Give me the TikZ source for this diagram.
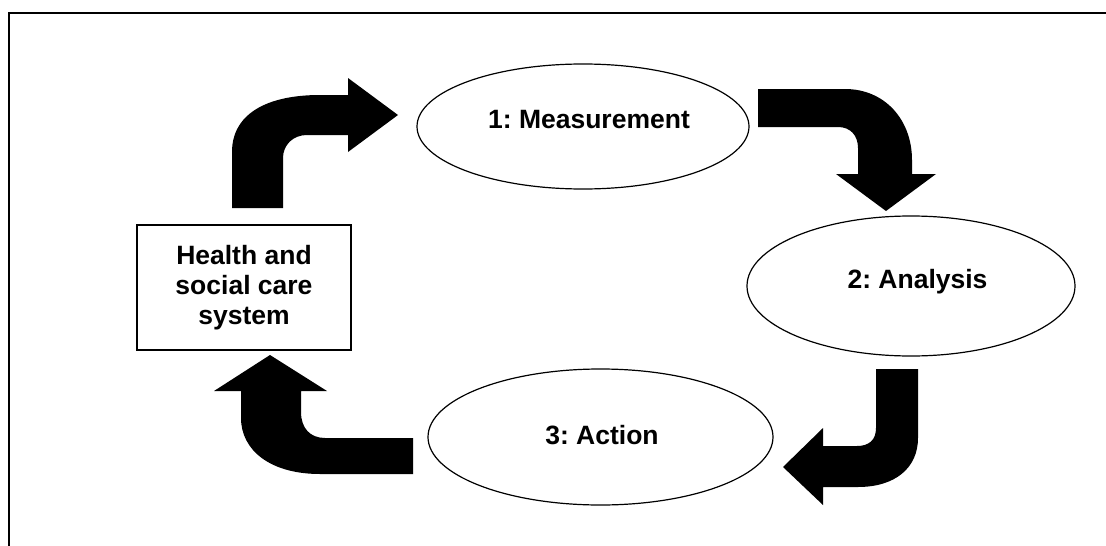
\documentclass[tikz,border=0pt]{standalone}
\usepackage{fontspec}
\setmainfont{Liberation Sans}
\usetikzlibrary{shapes.geometric}
\frenchspacing
\tikzset{
  ell/.style={draw=black, line width=1.2pt, ellipse, inner sep=0pt},
  sysbox/.style={draw=black, line width=1.5pt, rectangle, inner sep=0pt, align=center,
    font=\bfseries\fontsize{26.5}{30}\selectfont},
  lab/.style={anchor=base, inner sep=0pt, font=\bfseries\fontsize{26.5}{30}\selectfont},
  bent/.style={fill=black, draw=none},
  frame/.style={line width=2pt, draw=black}
}
\begin{document}
\begin{tikzpicture}[x=1pt, y=-1pt]
\useasboundingbox (0,0) rectangle (1106,546);
% frame (cut off at right and bottom)
\draw[frame] (9,546) -- (9,12.5) -- (1106,12.5);
% nodes
\node[ell, minimum width=332pt, minimum height=125pt] (m) at (583,126.5) {};
\node[ell, minimum width=328pt, minimum height=140pt] (an) at (911,286) {};
\node[ell, minimum width=345pt, minimum height=136pt] (ac) at (600.5,437) {};
\node[sysbox, minimum width=214pt, minimum height=125pt] (sys) at (244,287.5)
  {\frenchspacing Health and\\social care\\system};
\node[lab] (ml) at (589,128.3) {\frenchspacing 1: Measurement};
\node[lab] (anl) at (917.5,288.3) {\frenchspacing 2: Analysis};
\node[lab] (acl) at (602,444.3) {\frenchspacing 3: Action};
% bent block arrows
% system -> measurement
\fill[bent] (232,208) -- (232,152) .. controls (232,115) and (265,95) .. (320,95)
  -- (348,95) -- (348,78) -- (398,115) -- (348,152) -- (348,135) -- (307,135)
  .. controls (293,135) and (283,145) .. (283,158) -- (283,208) -- cycle;
% measurement -> analysis
\fill[bent] (758,89) -- (845,89) .. controls (885,89) and (912,120) .. (912,160)
  -- (912,174) -- (936,174) -- (886,211) -- (836,174) -- (858,174) -- (858,148)
  .. controls (858,135) and (850,127) .. (838,127) -- (758,127) -- cycle;
% analysis -> action
\fill[bent] (876,369) -- (918,369) -- (918,438) .. controls (918,468) and (895,487) .. (858,487)
  -- (823,487) -- (823,505) -- (783,467) -- (823,428) -- (823,446) -- (857,446)
  .. controls (869,446) and (876,440) .. (876,428) -- cycle;
% action -> system
\fill[bent] (413,438) -- (325,438) .. controls (310,438) and (301,428) .. (301,412)
  -- (301,391) -- (327,391) -- (270,355) -- (214,391) -- (241,391) -- (241,418)
  .. controls (241,450) and (270,474) .. (320,474) -- (413,474) -- cycle;
\end{tikzpicture}
\end{document}
